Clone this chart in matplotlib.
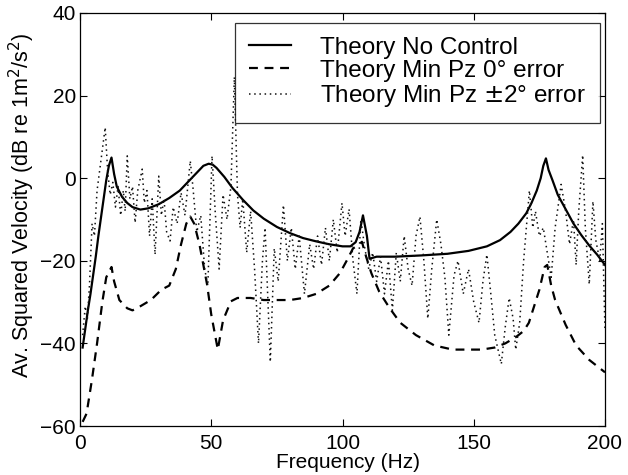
import matplotlib
matplotlib.use("Agg")
import matplotlib.pyplot as plt

plt.rcParams['font.family'] = ['Liberation Sans', 'DejaVu Sans']

# ---- data ----
f_solid = [1, 2, 3, 4, 5, 6, 7, 8, 9, 10, 11, 12, 13, 14, 16, 18, 20, 23, 26, 30, 34, 38, 41, 44,
           47, 49, 50.5, 52, 55, 58, 62, 66, 70, 75, 80, 85, 90, 95, 100, 103, 105, 106.5, 107.8,
           109.3, 110.3, 113, 120, 130, 140, 148, 155, 160, 164, 167, 170, 172, 174, 175.5, 176.5,
           177.5, 178.5, 180, 182, 185, 188, 191, 194, 197, 200]
v_solid = [-41, -36.5, -32, -28, -23.5, -19, -14, -9.5, -5, -0.5, 3, 5, 1, -2, -4.5, -6, -7, -7.6,
           -7.3, -6.3, -4.8, -3, -1, 1, 3, 3.5, 3.3, 2.5, 0.3, -2.3, -5.2, -7.8, -9.8, -11.8, -13.3,
           -14.5, -15.3, -16, -16.5, -16.5, -15.5, -13, -9, -14, -19.5, -19, -19, -18.7, -18.3,
           -17.6, -16.5, -15, -13, -11, -8.5, -6, -3, 0, 3, 4.8, 2, -0.5, -4, -7.5, -11, -13.8,
           -16.3, -18.5, -21]

f_dash = [1, 2.5, 4.5, 6.5, 8.5, 10, 12, 13, 15, 18, 20, 23, 27, 31, 34, 36.5, 38.5, 40.5, 42,
          43.5, 45.5, 48.4, 50, 52.5, 54.5, 57.5, 60, 65, 70, 75, 80, 85, 90, 95, 99, 102, 104,
          106, 107.4, 109, 111, 114, 118, 122, 128, 135, 142, 148, 153, 158, 162, 166, 169, 171,
          173, 175, 177, 178, 179.5, 181, 185, 189, 194, 200]
v_dash = [-59, -57, -49, -40, -30, -24, -21.5, -25, -29.5, -31.5, -32, -31, -29.5, -27, -26, -22,
          -16, -11, -9.3, -11, -16, -25.7, -33, -41.5, -34.4, -29.8, -29, -29, -29.5, -29.5, -29.5,
          -29, -28, -26, -23, -19.5, -17, -16.2, -15.4, -19, -23, -27.5, -31.5, -35, -38, -40.5,
          -41.5, -41.5, -41.5, -41, -40, -38.5, -37, -35, -31, -27, -21.5, -21, -26, -29.5, -35.5,
          -40.5, -44, -47]

f_dot = [1, 2, 2.8, 3.6, 4.6, 5.5, 6.5, 7.5, 8.5, 9.6, 10.5, 11.5, 12.5, 13.5, 14.5, 15.5, 16.5,
         17.2, 18, 19, 20, 21, 22, 23.7, 24.5, 25.5, 26.5, 27.5, 28.6, 30, 31, 32, 33, 34.3, 35.5,
         37, 38.5, 40, 42, 43, 44.5, 46, 47.5, 48.7, 50.3, 51.5, 53, 54.5, 56, 57.5, 58.8, 60, 61,
         62, 63.5, 65, 66.5, 68, 69.5, 70.5, 72.5, 74, 75.5, 77.5, 79, 80.5, 82, 83.5, 85.5, 87.5,
         89, 90.5, 92, 93.5, 95, 96.5, 98, 99.8, 101, 102.5, 104, 105.5, 107, 108.5, 110, 111.5,
         113, 114.5, 116, 117.5, 119, 120.5, 122, 123.5, 125, 126.5, 128, 129.5, 131, 132.5, 134,
         135.9, 137.5, 139, 140.5, 142.5, 144, 146, 148, 150, 152, 153.5, 155, 156.5, 158, 160.5,
         162, 163.5, 165, 166, 167.5, 169, 171.2, 172.5, 173.5, 175, 176.5, 178, 179.5, 181, 183.3,
         185, 186.5, 188, 189, 190, 191.5, 192.5, 194, 195.4, 196.5, 198, 199, 200]
v_dot = [-38, -31, -34, -26, -11, -14, -3, 2, 7, 12.3, 2, -4, -1, -7, -2, -9, -3, -8, 5.4, -5, -2,
         -10.8, -3, 2.2, -6, -3, -14, -5, -18.5, 0.5, -9, -5, -13, -15.2, -7, -11, -3.5, -9, 4.2,
         -2, -13, -9, -22, -26, 5.4, -8, -22, -4, -10, -2, 24.5, -4, -12, -5, -18, -8, -22, -40,
         -20, -12, -44.5, -17, -25, -6.5, -20, -12, -22, -14, -28, -16, -22, -14, -21, -12, -20,
         -10, -18, -6, -14, -7.5, -20, -28, -10, -17, -22, -18, -25, -19, -28, -20, -32, -18, -25,
         -14, -22, -26, -14, -9.3, -20, -34, -22, -10, -16, -24, -38, -23.5, -20, -28, -22, -30,
         -35, -25, -18.5, -28, -38, -45, -36, -29, -34, -41.5, -35, -20, -3, -12, -8, -14, -12,
         -18, -24, -12, -1.5, -8, -16, -10, -21, -8, 5.6, -12, -25.7, -5.6, -15, -20, -11, -37]

labels = ['Theory No Control', 'Theory Min Pz 0° error', 'Theory Min Pz $\\pm$2° error']

fig = plt.figure(figsize=(6.28, 4.75), dpi=100)
ax = fig.add_axes([80/628, 1-426/475, 525/628, 413/475])

ax.plot(f_solid, v_solid, color='black', lw=1.6, linestyle='-', label=labels[0])
ax.plot(f_dash, v_dash, color='black', lw=1.6, linestyle=(0, (4, 3)), label=labels[1])
ax.plot(f_dot, v_dot, color='#111111', lw=1.1, linestyle=(0, (1, 2.4)), label=labels[2])

ax.set_xlim(0, 200)
ax.set_ylim(-60, 40)
ax.set_xticks([0, 50, 100, 150, 200])
ax.set_yticks([-60, -40, -20, 0, 20, 40])
ax.tick_params(direction='in', top=True, right=True, length=5, width=0.8, labelsize=15)
ax.tick_params(axis='x', pad=6)
ax.tick_params(axis='y', pad=3)
for s in ax.spines.values():
    s.set_linewidth(0.9)

ax.set_xlabel('Frequency (Hz)', fontsize=15, labelpad=0)
ax.xaxis.set_label_coords(0.51, -0.066)
ax.set_ylabel('Av. Squared Velocity (dB re 1m$^2$/s$^2$)', fontsize=15.5, labelpad=1)
ax.yaxis.set_label_coords(-0.082, 0.535)

leg = ax.legend(loc='upper right', bbox_to_anchor=(0.99, 0.975), borderaxespad=0,
                fontsize=17.5, frameon=True, fancybox=False, edgecolor='black',
                handlelength=1.75, handletextpad=1.2, labelspacing=0.05, borderpad=0.55)
leg.get_frame().set_linewidth(0.9)

fig.savefig('out.png', dpi=100)
